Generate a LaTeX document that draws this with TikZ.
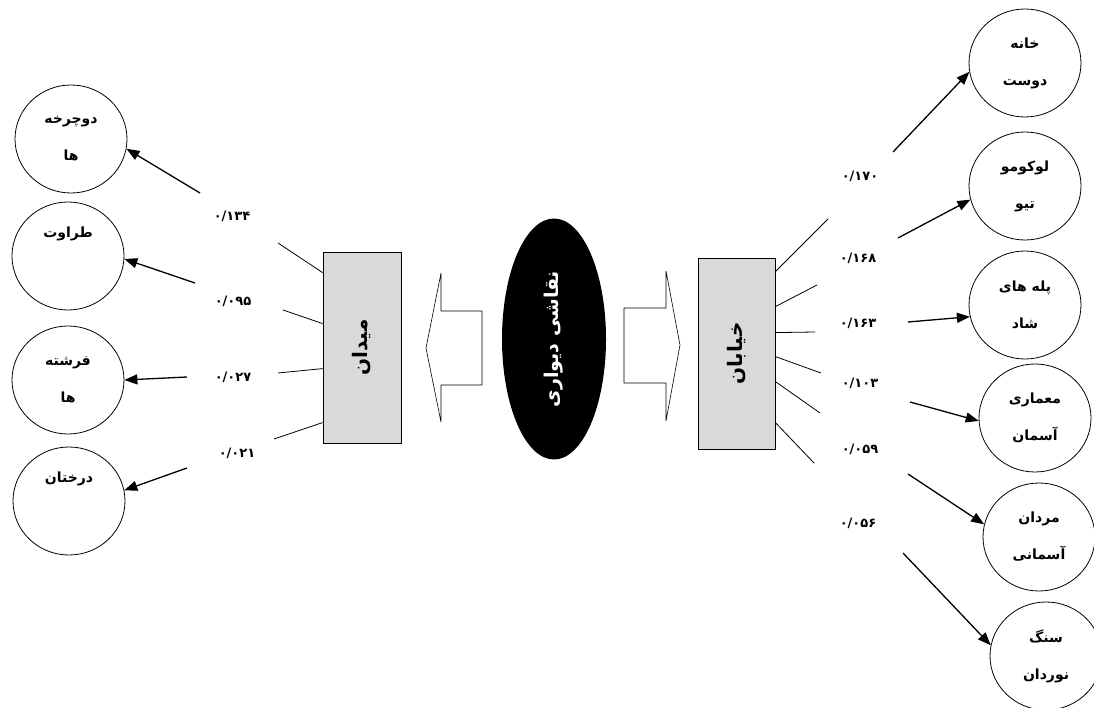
\documentclass[tikz,border=0pt]{standalone}
\usepackage{fontspec}
\usetikzlibrary{arrows.meta,shapes.geometric}
\TeXXeTstate=1
\newfontfamily\fa[Script=Arabic]{DejaVu Sans}
\newcommand{\rl}[1]{\beginR #1\endR}
\definecolor{boxgray}{RGB}{217,217,217}
\begin{document}
\begin{tikzpicture}[x=1pt,y=-1pt,
  circ/.style={draw, line width=0.8pt, ellipse, minimum width=112pt, minimum height=108pt, inner sep=0pt, align=center, font=\fa\bfseries\fontsize{14}{37}\selectfont},
  box/.style={draw, fill=boxgray, line width=0.8pt, inner sep=0pt, font=\fa\bfseries\fontsize{20}{22}\selectfont},
  num/.style={font=\fa\bfseries\fontsize{13}{15}\selectfont, inner sep=1pt},
  link/.style={line width=0.8pt},
  arr/.style={line width=1.3pt, -{Triangle[length=13pt,width=10pt]}},
  blockarrow/.style={draw, line width=0.6pt, fill=white},
]
\useasboundingbox (0,0) rectangle (1094,708);

% circles left
\node[circ] (l1) at (71,139) {\rl{دوچرخه}\\\rl{ها}};
\node[circ] (l2) at (68,256) {\rl{طراوت}\\\strut};
\node[circ] (l3) at (68,380) {\rl{فرشته}\\\rl{ها}};
\node[circ] (l4) at (69,501) {\rl{درختان}\\\strut};

% circles right
\node[circ] (r1) at (1025,63) {\rl{خانه}\\\rl{دوست}};
\node[circ] (r2) at (1025,186) {\rl{لوکومو}\\\rl{تیو}};
\node[circ] (r3) at (1025,305) {\rl{پله های}\\\rl{شاد}};
\node[circ] (r4) at (1035,418) {\rl{معماری}\\\rl{آسمان}};
\node[circ] (r5) at (1039,537) {\rl{مردان}\\\rl{آسمانی}};
\node[circ] (r6) at (1046,656) {\rl{سنگ}\\\rl{نوردان}};

% boxes
\node[box, minimum width=78pt, minimum height=191pt] (mid) at (362,347.5) {\rotatebox{90}{\rl{میدان}}};
\node[box, minimum width=77pt, minimum height=191pt] (kh) at (736.5,353.5) {\rotatebox{90}{\rl{خیابان}}};

% ellipse
\node[ellipse, fill=black, minimum width=104pt, minimum height=241pt, inner sep=0pt,
      text=white, font=\fa\bfseries\fontsize{19}{21}\selectfont] (el) at (554,339)
      {\rotatebox{90}{\rl{نقاشی دیواری}}};

% block arrows
\draw[blockarrow] (482,311) -- (441,311) -- (441,273) -- (426,348) -- (441,422) -- (441,385) -- (482,385) -- cycle;
\draw[blockarrow] (624,308) -- (666,308) -- (666,271) -- (680,345) -- (666,421) -- (666,383) -- (624,383) -- cycle;

% left free ends
\coordinate (la1) at (278,243);
\coordinate (la2) at (283,310);
\coordinate (la3) at (278,373);
\coordinate (la4) at (274,439);
\draw[link] ([yshift=-21pt]mid.north west) -- (la1);
\draw[link] ([yshift=-72pt]mid.north west) -- (la2);
\draw[link] ([yshift=-117pt]mid.north west) -- (la3);
\draw[link] ([yshift=-171pt]mid.north west) -- (la4);

% left numbers
\node[num] (n1) at (232,216) {۰/۱۳۴};
\node[num] (n2) at (233,301) {۰/۰۹۵};
\node[num] (n3) at (233,377) {۰/۰۲۷};
\node[num] (n4) at (237,453) {۰/۰۲۱};

% left arrows
\coordinate (lb1) at (200,193);
\coordinate (lb2) at (195,283);
\coordinate (lb3) at (187,377);
\coordinate (lb4) at (187,468);
\draw[arr] (lb1) -- (l1.-10);
\draw[arr] (lb2) -- (l2.-3);
\draw[arr] (lb3) -- (l3.0);
\draw[arr] (lb4) -- (l4.11);

% right free ends
\coordinate (ra1) at (828,219);
\coordinate (ra2) at (817,285);
\coordinate (ra3) at (815,332);
\coordinate (ra4) at (821,373);
\coordinate (ra5) at (820,413);
\coordinate (ra6) at (814,463);
\draw[link] ([yshift=-14pt]kh.north east) -- (ra1);
\draw[link] ([yshift=-49pt]kh.north east) -- (ra2);
\draw[link] ([yshift=-75pt]kh.north east) -- (ra3);
\draw[link] ([yshift=-99pt]kh.north east) -- (ra4);
\draw[link] ([yshift=-124pt]kh.north east) -- (ra5);
\draw[link] ([yshift=-165pt]kh.north east) -- (ra6);

% right numbers
\node[num] (m1) at (860,176) {۰/۱۷۰};
\node[num] (m2) at (858,258) {۰/۱۶۸};
\node[num] (m3) at (858,323) {۰/۱۶۳};
\node[num] (m4) at (860,383) {۰/۱۰۳};
\node[num] (m5) at (860,449) {۰/۰۵۹};
\node[num] (m6) at (858,523) {۰/۰۵۶};

% right arrows
\coordinate (rb1) at (893,152);
\coordinate (rb2) at (898,238);
\coordinate (rb3) at (908,322);
\coordinate (rb4) at (910,402);
\coordinate (rb5) at (908,474);
\coordinate (rb6) at (903,553);
\draw[arr] (rb1) -- (r1.189);
\draw[arr] (rb2) -- (r2.194);
\draw[arr] (rb3) -- (r3.192);
\draw[arr] (rb4) -- (r4.183);
\draw[arr] (rb5) -- (r5.167);
\draw[arr] (rb6) -- (r6.169);
\end{tikzpicture}
\end{document}
